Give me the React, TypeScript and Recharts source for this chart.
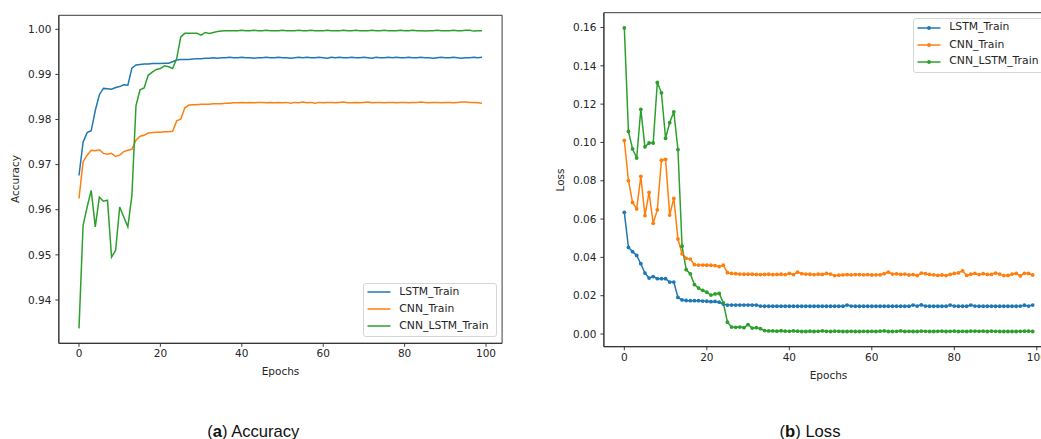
import React from "react";
import { LineChart, Line, XAxis, YAxis, ReferenceArea } from "recharts";

// values (100 epochs)
const lstmAcc = [
  0.9676, 0.975, 0.9771, 0.9775, 0.982, 0.9855, 0.9869, 0.9868, 0.9867, 0.9871,
  0.9873, 0.9877, 0.9876, 0.9914, 0.9921, 0.9922, 0.9923, 0.9923, 0.9924, 0.9924,
  0.9924, 0.9925, 0.9925, 0.9928, 0.9932, 0.9933, 0.9933, 0.9933, 0.9934, 0.9935,
  0.9935, 0.9936, 0.9936, 0.9937, 0.9936, 0.9937, 0.9937, 0.9938, 0.9937, 0.9937,
  0.9938, 0.9937, 0.9937, 0.9936, 0.9937, 0.9937, 0.9938, 0.9937, 0.9937, 0.9938,
  0.9937, 0.9937, 0.9936, 0.9937, 0.9938, 0.9937, 0.9938, 0.9937, 0.9937, 0.9938,
  0.9937, 0.9936, 0.9938, 0.9937, 0.9938, 0.9937, 0.9937, 0.9938, 0.9937, 0.9937,
  0.9938, 0.9937, 0.9936, 0.9938, 0.9937, 0.9937, 0.9938, 0.9937, 0.9938, 0.9937,
  0.9937, 0.9938, 0.9937, 0.9937, 0.9938, 0.9937, 0.9937, 0.9936, 0.9937, 0.9938,
  0.9937, 0.9937, 0.9938, 0.9937, 0.9936, 0.9937, 0.9937, 0.9938, 0.9937, 0.9938,
];
const cnnAcc = [
  0.9625, 0.9706, 0.9721, 0.9732, 0.9731, 0.9733, 0.9725, 0.9723, 0.9725, 0.9718,
  0.9721, 0.9729, 0.9732, 0.9734, 0.9754, 0.9763, 0.9765, 0.977, 0.9771, 0.9772,
  0.9772, 0.9773, 0.9773, 0.9774, 0.9797, 0.9801, 0.9826, 0.9832, 0.9833, 0.9833,
  0.9834, 0.9834, 0.9834, 0.9835, 0.9835, 0.9835, 0.9836, 0.9836, 0.9837, 0.9837,
  0.9838, 0.9837, 0.9838, 0.9837, 0.9838, 0.9838, 0.9837, 0.9838, 0.9837, 0.9838,
  0.9837, 0.9838, 0.9836, 0.9838, 0.9837, 0.9839, 0.9837, 0.9838, 0.9836, 0.9838,
  0.9837, 0.9838, 0.9838, 0.9837, 0.9838, 0.9839, 0.9837, 0.9837, 0.9838, 0.9837,
  0.9838, 0.9839, 0.9837, 0.9838, 0.9838, 0.9837, 0.9838, 0.9838, 0.9837, 0.9838,
  0.9838, 0.9837, 0.9838, 0.9838, 0.9839, 0.9838, 0.9837, 0.9838, 0.9838, 0.9837,
  0.9838, 0.9838, 0.9837, 0.9838, 0.9839, 0.9839, 0.9838, 0.9838, 0.9837, 0.9836,
];
const mixAcc = [
  0.9337, 0.9565, 0.9606, 0.9643, 0.9562, 0.9628, 0.9619, 0.9621, 0.9495, 0.951,
  0.9606, 0.9584, 0.9562, 0.9632, 0.9831, 0.9866, 0.987, 0.9898, 0.9905, 0.9911,
  0.9913, 0.9919, 0.9917, 0.9913, 0.9935, 0.9983, 0.9991, 0.9991, 0.9991, 0.9991,
  0.9987, 0.9993, 0.9991, 0.9993, 0.9995, 0.9996, 0.9997, 0.9997, 0.9997, 0.9997,
  0.9998, 0.9997, 0.9997, 0.9998, 0.9997, 0.9997, 0.9998, 0.9997, 0.9997, 0.9997,
  0.9998, 0.9997, 0.9997, 0.9997, 0.9998, 0.9997, 0.9997, 0.9998, 0.9997, 0.9997,
  0.9997, 0.9998, 0.9997, 0.9997, 0.9997, 0.9998, 0.9997, 0.9997, 0.9998, 0.9997,
  0.9997, 0.9997, 0.9998, 0.9997, 0.9997, 0.9998, 0.9997, 0.9997, 0.9997, 0.9998,
  0.9997, 0.9997, 0.9998, 0.9997, 0.9997, 0.9996, 0.9997, 0.9997, 0.9998, 0.9997,
  0.9997, 0.9997, 0.9998, 0.9997, 0.9997, 0.9998, 0.9998, 0.9996, 0.9997, 0.9997,
];

const lstmLoss = [
  0.0635, 0.0452, 0.043, 0.041, 0.0367, 0.0318, 0.0292, 0.03, 0.0289, 0.0289,
  0.0289, 0.0271, 0.0271, 0.0191, 0.0178, 0.0175, 0.0174, 0.0174, 0.0174, 0.0172,
  0.0171, 0.0169, 0.017, 0.0166, 0.0156, 0.0151, 0.0151, 0.0151, 0.0151, 0.0151,
  0.0151, 0.0151, 0.0151, 0.0146, 0.0145, 0.0145, 0.0145, 0.0145, 0.0145, 0.0145,
  0.0145, 0.0145, 0.0145, 0.0145, 0.0145, 0.0145, 0.0145, 0.0145, 0.0145, 0.0145,
  0.0145, 0.0145, 0.0145, 0.0145, 0.0151, 0.0146, 0.0145, 0.0145, 0.0145, 0.0145,
  0.0145, 0.0145, 0.0145, 0.0145, 0.0145, 0.0145, 0.0145, 0.0145, 0.0145, 0.0145,
  0.0151, 0.0146, 0.0152, 0.0146, 0.0145, 0.0145, 0.0145, 0.0145, 0.0145, 0.0151,
  0.0146, 0.0145, 0.0145, 0.0145, 0.0151, 0.0146, 0.0145, 0.0145, 0.0145, 0.0145,
  0.0145, 0.0145, 0.0145, 0.0145, 0.0145, 0.0145, 0.0146, 0.015, 0.0146, 0.0151,
];
const cnnLoss = [
  0.101, 0.08, 0.0687, 0.0653, 0.0823, 0.0618, 0.0739, 0.0578, 0.0648, 0.0907,
  0.0912, 0.0621, 0.0708, 0.0496, 0.0418, 0.0395, 0.0391, 0.0362, 0.036, 0.036,
  0.0359, 0.0359, 0.0357, 0.0352, 0.0359, 0.032, 0.0316, 0.0315, 0.0313, 0.0312,
  0.0312, 0.0312, 0.0311, 0.031, 0.0311, 0.0312, 0.031, 0.0311, 0.0312, 0.031,
  0.0316, 0.031, 0.0323, 0.0315, 0.0313, 0.0312, 0.031, 0.0312, 0.0311, 0.0316,
  0.0313, 0.0305, 0.0307, 0.0309, 0.031, 0.0309, 0.031, 0.031, 0.0309, 0.031,
  0.0308, 0.0309, 0.0309, 0.0315, 0.0323, 0.0313, 0.0314, 0.0311, 0.0313, 0.0308,
  0.031, 0.0305, 0.0318, 0.0315, 0.0311, 0.0309, 0.0306, 0.0308, 0.0305, 0.0311,
  0.0316, 0.0319, 0.033, 0.0306, 0.0312, 0.0316, 0.031, 0.0315, 0.0311, 0.0311,
  0.0318, 0.0313, 0.0305, 0.0306, 0.0313, 0.0316, 0.0303, 0.0317, 0.0316, 0.0308,
];
const mixLoss = [
  0.1598, 0.1057, 0.0966, 0.0919, 0.1173, 0.0977, 0.0997, 0.0997, 0.1313, 0.1259,
  0.1022, 0.1103, 0.116, 0.0963, 0.0458, 0.0336, 0.0314, 0.0258, 0.024, 0.0228,
  0.0218, 0.0203, 0.0209, 0.0212, 0.0163, 0.0062, 0.0036, 0.0035, 0.0036, 0.0033,
  0.0049, 0.0031, 0.0033, 0.0028, 0.0018, 0.0016, 0.0016, 0.0015, 0.0017, 0.0015,
  0.0014, 0.0016, 0.0015, 0.0013, 0.0013, 0.0015, 0.0013, 0.0014, 0.0016, 0.0014,
  0.0013, 0.0015, 0.0014, 0.0013, 0.0013, 0.0014, 0.0013, 0.0013, 0.0014, 0.0013,
  0.0014, 0.0013, 0.0015, 0.0016, 0.0013, 0.0013, 0.0014, 0.0016, 0.0013, 0.0014,
  0.0013, 0.0013, 0.0015, 0.0014, 0.0013, 0.0013, 0.0014, 0.0015, 0.0013, 0.0014,
  0.0015, 0.0013, 0.0014, 0.0013, 0.0015, 0.0015, 0.0014, 0.0015, 0.0013, 0.0015,
  0.0014, 0.0013, 0.0013, 0.0013, 0.0013, 0.0013, 0.0014, 0.0015, 0.0015, 0.0013,
];

const seriesNames = ["LSTM_Train", "CNN_Train", "CNN_LSTM_Train"];
const xTicks = [0, 20, 40, 60, 80, 100];
const accTicks = [0.94, 0.95, 0.96, 0.97, 0.98, 0.99, 1.0];
const lossTicks = [0, 0.02, 0.04, 0.06, 0.08, 0.1, 0.12, 0.14, 0.16];

const COLORS = ["#1f77b4", "#ff7f0e", "#2ca02c"];
const INK = "#262626";
const FONT = '"DejaVu Sans", Verdana, sans-serif';
const FS = 10.5;
const LEGEND_FS = 10.8;

// matplotlib-style 5% margins
function padded(values: number[]): [number, number] {
  const lo = Math.min(...values);
  const hi = Math.max(...values);
  const d = (hi - lo) * 0.05;
  return [lo - d, hi + d];
}

const xDomain = padded([0, lstmAcc.length - 1]);
const accDomain = padded([...lstmAcc, ...cnnAcc, ...mixAcc]);
const lossDomain = padded([...lstmLoss, ...cnnLoss, ...mixLoss]);

const accRows = lstmAcc.map((v, i) => ({ epoch: i, lstm: v, cnn: cnnAcc[i], mix: mixAcc[i] }));
const lossRows = lstmLoss.map((v, i) => ({ epoch: i, lstm: v, cnn: cnnLoss[i], mix: mixLoss[i] }));

const tickStyle = { fontSize: FS, fill: INK, fontFamily: FONT };
const axisLine = { stroke: INK, strokeWidth: 0.9 };

function Panel({
  rows,
  yDomain,
  yTicks,
  width,
  margin,
  dots,
}: {
  rows: any[];
  yDomain: [number, number];
  yTicks: number[];
  width: number;
  margin: { top: number; right: number; left: number; bottom: number };
  dots: boolean;
}) {
  const keys = ["lstm", "cnn", "mix"];
  return (
    <LineChart width={width} height={439} data={rows} margin={margin}>
      <XAxis
        dataKey="epoch"
        type="number"
        domain={xDomain}
        allowDataOverflow
        ticks={xTicks}
        tick={tickStyle}
        tickSize={3.5}
        tickMargin={3}
        axisLine={axisLine}
        tickLine={axisLine}
        height={30}
      />
      <YAxis
        type="number"
        domain={yDomain}
        allowDataOverflow
        ticks={yTicks}
        tickFormatter={(v: number) => v.toFixed(2)}
        tick={tickStyle}
        tickSize={3.5}
        tickMargin={4}
        axisLine={axisLine}
        tickLine={axisLine}
        width={50}
      />
      {/* axes frame (matplotlib spines) */}
      <ReferenceArea
        x1={xDomain[0]}
        x2={xDomain[1]}
        y1={yDomain[0]}
        y2={yDomain[1]}
        fill="none"
        fillOpacity={0}
        stroke={INK}
        strokeWidth={0.9}
        strokeOpacity={1}
        ifOverflow="visible"
      />
      {keys.map((k, i) => (
        <Line
          key={k}
          dataKey={k}
          type="linear"
          stroke={COLORS[i]}
          strokeWidth={1.5}
          dot={dots ? { r: 1.9, fill: COLORS[i], stroke: COLORS[i], strokeWidth: 0 } : false}
          activeDot={false}
          isAnimationActive={false}
        />
      ))}
    </LineChart>
  );
}

function LegendBox({ left, top, width, dots }: { left: number; top: number; width: number; dots: boolean }) {
  const rowY = [9.6, 26.7, 43.6];
  return (
    <div
      style={{
        position: "absolute",
        left,
        top,
        width,
        height: 54.5,
        boxSizing: "border-box",
        border: "1px solid #d6d6d6",
        borderRadius: 3,
        background: "rgba(255,255,255,0.85)",
      }}
    >
      {seriesNames.map((name, i) => (
        <div key={name}>
          <svg
            width={26}
            height={8}
            style={{ position: "absolute", left: 3, top: rowY[i] - 4 - 1 }}
          >
            <line x1={0.5} x2={23.5} y1={4} y2={4} stroke={COLORS[i]} strokeWidth={1.5} />
            {dots && <circle cx={12} cy={4} r={1.9} fill={COLORS[i]} />}
          </svg>
          <div
            style={{
              position: "absolute",
              left: 35,
              top: rowY[i] - 1 - LEGEND_FS / 2 - 1,
              fontSize: LEGEND_FS,
              lineHeight: `${LEGEND_FS + 2}px`,
              fontFamily: FONT,
              color: INK,
              whiteSpace: "nowrap",
            }}
          >
            {name}
          </div>
        </div>
      ))}
    </div>
  );
}

function Label({ x, y, text, rotate }: { x: number; y: number; text: string; rotate?: boolean }) {
  return (
    <div
      style={{
        position: "absolute",
        left: x,
        top: y,
        transform: `translate(-50%, -50%)${rotate ? " rotate(-90deg)" : ""}`,
        fontSize: FS,
        lineHeight: 1,
        fontFamily: FONT,
        color: INK,
        whiteSpace: "nowrap",
      }}
    >
      {text}
    </div>
  );
}

function Caption({ x, tag, text }: { x: number; tag: string; text: string }) {
  return (
    <div
      style={{
        position: "absolute",
        left: x,
        top: 424,
        transform: "translateX(-50%)",
        fontSize: 16.6,
        lineHeight: "16.6px",
        fontFamily: '"Liberation Sans", Arial, sans-serif',
        color: "#111",
        whiteSpace: "nowrap",
      }}
    >
      (<b>{tag}</b>) {text}
    </div>
  );
}

export default function App() {
  return (
    <div
      style={{
        position: "absolute",
        left: 0,
        top: 0,
        width: 1041,
        height: 439,
        overflow: "hidden",
        background: "#fff",
      }}
    >
      <div style={{ position: "absolute", left: 0, top: 0 }}>
        <Panel
          rows={accRows}
          yDomain={accDomain}
          yTicks={accTicks}
          width={520}
          margin={{ top: 15.3, right: 17.9, left: 8.85, bottom: 65.7 }}
          dots={false}
        />
      </div>
      <div style={{ position: "absolute", left: 540, top: 0 }}>
        <Panel
          rows={lossRows}
          yDomain={lossDomain}
          yTicks={lossTicks}
          width={540}
          margin={{ top: 12.7, right: 26.9, left: 13.9, bottom: 62.3 }}
          dots={true}
        />
      </div>

      <LegendBox left={363.3} top={282.7} width={133.4} dots={false} />
      <LegendBox left={913.3} top={18.3} width={140} dots={true} />

      <Label x={15} y={179.3} text="Accuracy" rotate />
      <Label x={280.5} y={371} text="Epochs" />
      <Label x={560} y={179.7} text="Loss" rotate />
      <Label x={828.5} y={375} text="Epochs" />

      <Caption x={253.3} tag="a" text="Accuracy" />
      <Caption x={810} tag="b" text="Loss" />
    </div>
  );
}
